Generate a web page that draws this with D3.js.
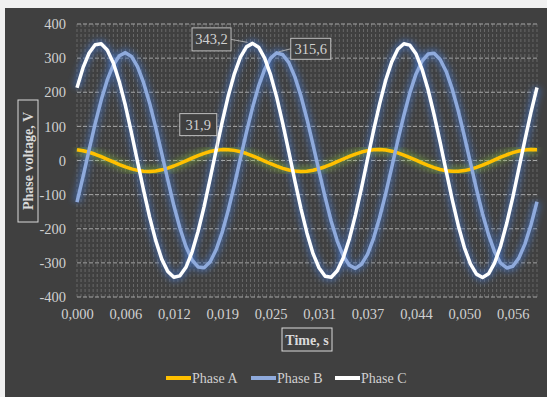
<!DOCTYPE html>
<html>
<head>
<meta charset="utf-8">
<script src="https://cdn.jsdelivr.net/npm/d3@7"></script>
<style>
    body { margin: 0; background: #f0f0f0; }
    svg text { font-family: "Liberation Serif", "Times New Roman", serif; }
</style>
</head>
<body>
<svg id="chart"></svg>
<script>
// samples, one every 0.00078125 s
const phaseA = [31.2, 28.6, 24.2, 18.3, 11.3, 3.6, -4.3, -12.0, -18.9, -24.6, -28.9, -31.4, -32.0, -30.6, -27.3, -22.4,
    -16.1, -8.8, -1.0, 6.9, 14.4, 20.9, 26.3, 29.9, 31.9, 31.7, 29.7, 25.8, 20.4, 13.7, 6.2, -1.7,
    -9.5, -16.7, -22.9, -27.7, -30.8, -32.0, -31.2, -28.6, -24.2, -18.3, -11.3, -3.6, 4.4, 12.0, 18.9, 24.7,
    28.9, 31.4, 32.0, 30.5, 27.3, 22.3, 16.0, 8.7, 0.9, -7.0, -14.4, -21.0, -26.3, -30.0, -31.8, -31.7,
    -29.6, -25.8, -20.3, -13.7, -6.1, 1.8, 9.6, 16.8, 22.9, 27.7, 30.8, 32.0, 31.2]
const phaseB = [-122, -47, 31, 108, 177, 236, 280, 307, 316, 305, 275, 228, 168, 97, 21, -57,
    -132, -198, -252, -291, -312, -314, -297, -261, -210, -145, -72, 6, 83, 155, 218, 267,
    300, 315.6, 310, 287, 245, 189, 121, 46, -32, -108, -178, -236, -280, -307, -316, -304,
    -275, -228, -167, -97, -20, 58, 132, 199, 253, 291, 312, 314, 296, 261, 209, 145,
    71, -6, -84, -156, -218, -268, -301, -315, -310, -286, -245, -189, -121]
const phaseC = [213, 272, 315, 339, 342, 324, 286, 230, 161, 81, -3, -87, -166, -234, -289, -325,
    -342, -338, -313, -269, -208, -135, -53, 31, 114, 190, 254, 303, 333, 343.2, 332, 300,
    250, 185, 108, 25, -60, -141, -213, -273, -315, -339, -342, -323, -285, -230, -160, -81,
    4, 88, 166, 235, 289, 326, 342, 338, 313, 268, 208, 134, 53, -32, -115, -191,
    -255, -303, -333, -343, -332, -300, -250, -184, -108, -24, 60, 141, 214]

const sampleStep = 0.00078125
const tickLabels = ["0,000", "0,006", "0,012", "0,019", "0,025", "0,031", "0,037", "0,044", "0,050", "0,056"]
const tickEvery = 8
const gridPerTick = 12
const yTicks = [-400, -300, -200, -100, 0, 100, 200, 300, 400]

const seriesNames = ["Phase A", "Phase B", "Phase C"]
const seriesColors = ["#ffc000", "#8faadc", "#ffffff"]
const glowColors = ["#7fae3a", "#4472c4", "#4472c4"]

// data labels: series, sample index, text
const peakSeries = [2, 1, 0]
const peakIndex = [29, 33, 24]
const peakText = ["343,2", "315,6", "31,9"]

const width = 547
const height = 397
const pad_left = 77
const pad_right = 10
const pad_top = 24
const pad_bottom = 100

let series = [phaseA, phaseB, phaseC]
let times = phaseA.map((d, i) => i * sampleStep)

let svg = d3.select('#chart')
    .attr('width', width)
    .attr('height', height)

// chart background
svg.append('rect')
    .attr('x', 5).attr('y', 8)
    .attr('width', width - 5).attr('height', height - 8)
    .attr('fill', '#404040')

let xScale = d3.scaleLinear().domain(d3.extent(times)).range([pad_left, width - pad_right])
let yScale = d3.scaleLinear().domain([-400, 400]).range([height - pad_bottom, pad_top])

// vertical grid, fine steps between labelled ticks
let gridStep = sampleStep * tickEvery / gridPerTick
let gridVals = d3.range(0, xScale.domain()[1] + gridStep / 2, gridStep)
svg.append('g')
    .selectAll('line')
    .data(gridVals)
    .join('line')
    .attr('x1', d => xScale(d)).attr('x2', d => xScale(d))
    .attr('y1', yScale(400)).attr('y2', yScale(-400))
    .attr('stroke', '#7a7a7a')
    .attr('stroke-width', 0.7)
    .attr('stroke-dasharray', '3,2')

// horizontal grid
svg.append('g')
    .selectAll('line')
    .data(yTicks)
    .join('line')
    .attr('x1', pad_left).attr('x2', width - pad_right)
    .attr('y1', d => yScale(d)).attr('y2', d => yScale(d))
    .attr('stroke', '#a6a6a6')
    .attr('stroke-width', 1)
    .attr('stroke-dasharray', '4,2')

// y axis
let yAxis = d3.axisLeft(yScale).tickValues(yTicks).tickSize(0).tickPadding(11)
    .tickFormat(d => String(d))
let yg = svg.append('g').attr('transform', 'translate(' + pad_left + ',0)').call(yAxis)
yg.attr('font-family', null)
yg.select('.domain').remove()
yg.selectAll('text').attr('fill', '#d0d0d0').attr('font-size', 14.5)

// x axis
let xTickVals = tickLabels.map((d, i) => times[i * tickEvery])
let xAxis = d3.axisBottom(xScale).tickValues(xTickVals).tickSize(0).tickPadding(12)
    .tickFormat((d, i) => tickLabels[i])
let xg = svg.append('g').attr('transform', 'translate(0,' + yScale(-400) + ')').call(xAxis)
xg.attr('font-family', null)
xg.select('.domain').remove()
xg.selectAll('text').attr('fill', '#d0d0d0').attr('font-size', 14.5)

// glow filter
let defs = svg.append('defs')
let glow = defs.append('filter').attr('id', 'glow')
    .attr('x', '-10%').attr('y', '-10%').attr('width', '120%').attr('height', '120%')
glow.append('feGaussianBlur').attr('stdDeviation', 3)

let line = d3.line()
    .x((d, i) => xScale(times[i]))
    .y(d => yScale(d))

// glows first, then lines
svg.append('g')
    .selectAll('path')
    .data(series)
    .join('path')
    .attr('fill', 'none')
    .attr('stroke', (d, i) => glowColors[i])
    .attr('stroke-width', 9)
    .attr('stroke-opacity', 0.55)
    .attr('filter', 'url(#glow)')
    .attr('d', d => line(d))

svg.append('g')
    .selectAll('path')
    .data(series)
    .join('path')
    .attr('fill', 'none')
    .attr('stroke', (d, i) => seriesColors[i])
    .attr('stroke-width', 3.5)
    .attr('stroke-linejoin', 'round')
    .attr('d', d => line(d))

// data labels with leader lines
let boxW = [39, 40, 37]
let boxH = [23, 21, 22]
let boxDx = [-41, 34, -24]
let boxDy = [-4, -4, -25]
peakText.forEach((txt, k) => {
    let px = xScale(times[peakIndex[k]])
    let py = yScale(series[peakSeries[k]][peakIndex[k]])
    let cx = px + boxDx[k]
    let cy = py + boxDy[k]
    // leader line from nearest box side
    let lx = boxDx[k] < 0 ? cx + boxW[k] / 2 : cx - boxW[k] / 2
    let ly = k === 2 ? cy + 2 : cy
    svg.append('line')
        .attr('x1', lx).attr('y1', ly)
        .attr('x2', px - (boxDx[k] < 0 ? 5 : -2)).attr('y2', py - 1)
        .attr('stroke', '#bfbfbf').attr('stroke-width', 0.8)
    svg.append('rect')
        .attr('x', cx - boxW[k] / 2).attr('y', cy - boxH[k] / 2)
        .attr('width', boxW[k]).attr('height', boxH[k])
        .attr('fill', '#404040')
        .attr('stroke', '#bfbfbf').attr('stroke-width', 1)
    svg.append('text')
        .attr('x', cx).attr('y', cy + 5)
        .attr('text-anchor', 'middle')
        .attr('font-size', 14.5)
        .attr('fill', '#d0d0d0')
        .text(txt)
})

// axis titles in boxes
let yt = svg.append('g').attr('transform', 'translate(28,161) rotate(-90)')
yt.append('rect').attr('x', -61).attr('y', -10).attr('width', 122).attr('height', 20)
    .attr('fill', 'none').attr('stroke', '#d9d9d9').attr('stroke-width', 1)
yt.append('text').attr('text-anchor', 'middle').attr('y', 5)
    .attr('font-size', 14).attr('font-weight', 'bold').attr('fill', '#d9d9d9')
    .text('Phase voltage, V')

let xt = svg.append('g').attr('transform', 'translate(307,340)')
xt.append('rect').attr('x', -25).attr('y', -12).attr('width', 50).attr('height', 23)
    .attr('fill', 'none').attr('stroke', '#d9d9d9').attr('stroke-width', 1)
xt.append('text').attr('text-anchor', 'middle').attr('y', 5)
    .attr('font-size', 14).attr('font-weight', 'bold').attr('fill', '#d9d9d9')
    .text('Time, s')

// legend
let legendX = [166, 251, 335]
let legend = svg.append('g')
    .selectAll('g')
    .data(seriesNames)
    .join('g')
    .attr('transform', (d, i) => 'translate(' + legendX[i] + ',378)')
legend.append('line')
    .attr('x1', 0).attr('x2', 25)
    .attr('stroke', (d, i) => seriesColors[i])
    .attr('stroke-width', 4)
legend.append('text')
    .attr('x', 26).attr('y', 5)
    .attr('font-size', 14)
    .attr('fill', '#d0d0d0')
    .text(d => d)
</script>
</body>
</html>
